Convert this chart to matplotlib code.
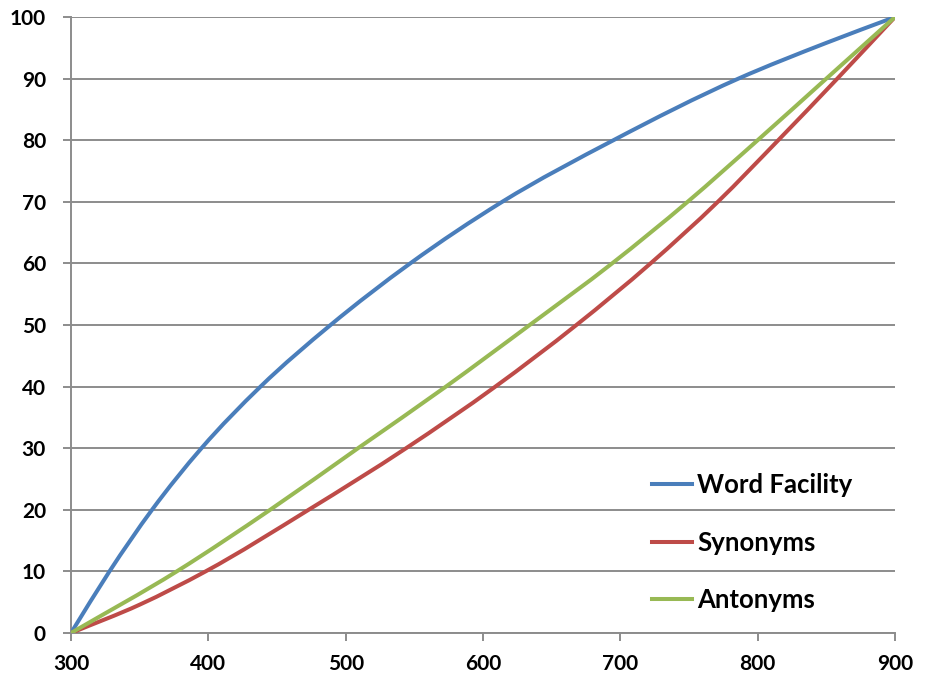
import numpy as np
import matplotlib.pyplot as plt
from matplotlib.path import Path
from matplotlib.patches import PathPatch
from matplotlib.lines import Line2D

# values (x where each curve was read, and the value there)
wf_x = [300, 328, 359, 395, 438, 489, 547, 614, 695, 786, 850, 900]
wf_y = [0, 10, 20, 30, 40, 50, 60, 70, 80, 90, 95.8, 100]
syn_x = [300, 350, 398, 473, 544, 609, 668, 722, 771, 815, 858, 900]
syn_y = [0, 4.6, 10, 20, 30, 40, 50, 60, 70, 80, 90, 100]
ant_x = [300, 377, 445, 509, 573, 634, 694, 749, 800, 850, 900]
ant_y = [0, 10, 20, 30, 40, 50, 60, 70, 80, 90, 100]
labels = ['Word Facility', 'Synonyms', 'Antonyms']
colors = ['#4A7EBB', '#BE4B48', '#98B954']

plt.rcParams['font.family'] = ['Lato', 'DejaVu Sans']


def smooth_path(xs, ys):
    # smoothed line like the spreadsheet's: cubic bezier through every reading
    xs = np.asarray(xs, float)
    ys = np.asarray(ys, float)
    m = np.gradient(ys, xs)
    verts = [(xs[0], ys[0])]
    codes = [Path.MOVETO]
    for i in range(len(xs) - 1):
        h = xs[i+1] - xs[i]
        verts += [(xs[i] + h/3, ys[i] + m[i]*h/3),
                  (xs[i+1] - h/3, ys[i+1] - m[i+1]*h/3),
                  (xs[i+1], ys[i+1])]
        codes += [Path.CURVE4] * 3
    return Path(verts, codes)


fig = plt.figure(figsize=(9.25, 6.81), dpi=100)
ax = fig.add_axes([71/925, 1-633/681, 824/925, 616/681])

series = [(wf_x, wf_y), (syn_x, syn_y), (ant_x, ant_y)]
handles = []
for (xs, ys), lab, c in zip(series, labels, colors):
    ax.add_patch(PathPatch(smooth_path(xs, ys), fill=False, edgecolor=c, lw=2.9,
                           capstyle='round', joinstyle='round', zorder=3))
    handles.append(Line2D([], [], color=c, lw=2.9, label=lab))

ax.set_xlim(300, 900)
ax.set_ylim(0, 100)
ax.set_xticks(np.arange(300, 901, 100))
ax.set_yticks(np.arange(0, 101, 10))
ax.grid(axis='y', color='#8c8c8c', lw=1.4)
ax.set_axisbelow(True)

for s in ['top', 'right']:
    ax.spines[s].set_visible(False)
for s in ['left', 'bottom']:
    ax.spines[s].set_color('#8c8c8c')
    ax.spines[s].set_linewidth(1.4)

ax.tick_params(axis='both', colors='#8c8c8c', length=6, width=1.4, labelcolor='black', labelsize=15)
ax.tick_params(axis='x', pad=9)
ax.tick_params(axis='y', pad=12)
for t in ax.get_xticklabels() + ax.get_yticklabels():
    t.set_fontweight('bold')

leg = ax.legend(handles=handles, loc='upper left', bbox_to_anchor=(0.705, 0.259), frameon=False,
                handlelength=1.56, handletextpad=0.2, labelspacing=1.3,
                borderpad=0, borderaxespad=0, prop={'weight': 'bold', 'size': 18.5})

fig.savefig('out.png', dpi=100)
